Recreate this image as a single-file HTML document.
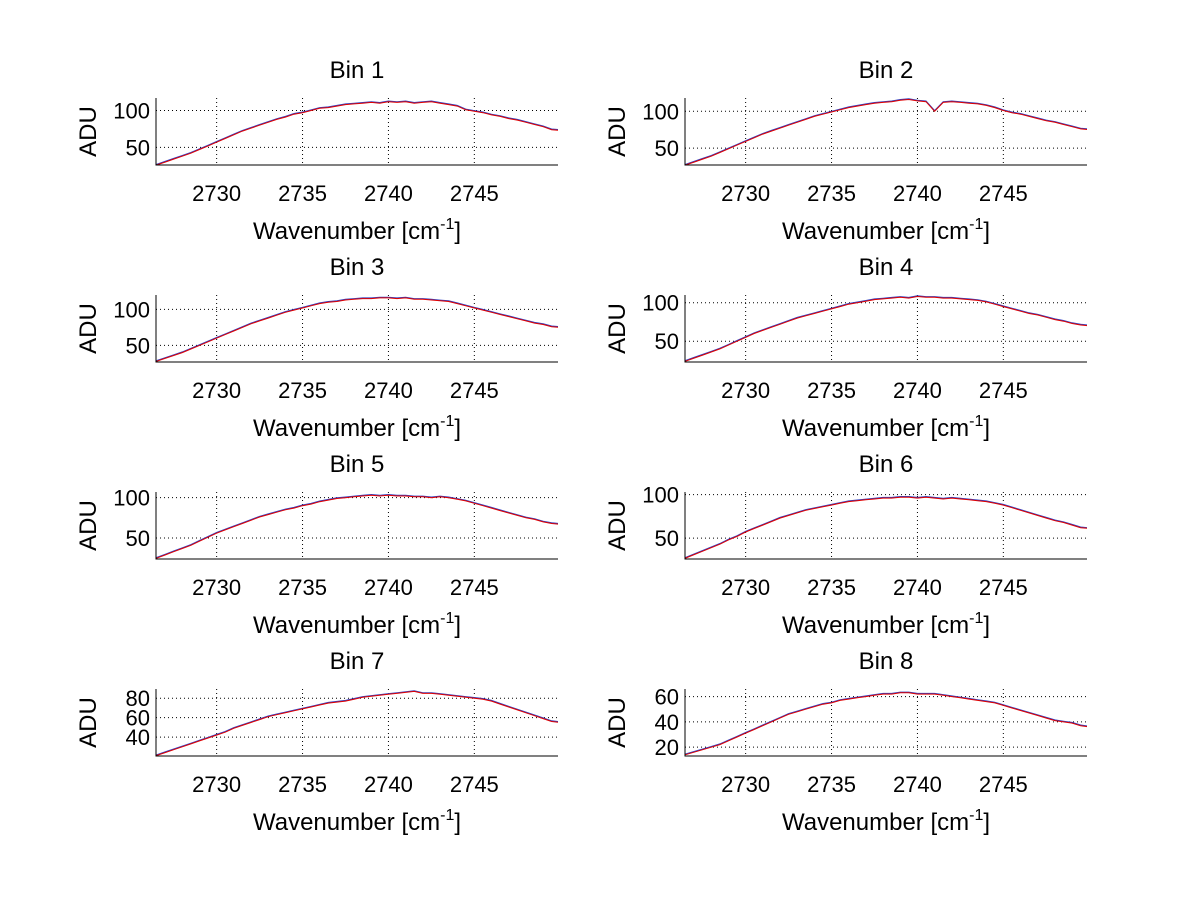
<!DOCTYPE html>
<html><head><meta charset="utf-8"><style>
body{margin:0;background:#fff}
svg{display:block;font-family:"Liberation Sans",sans-serif}
</style></head><body>
<svg id="fig" width="1200" height="901" viewBox="0 0 1200 901"></svg>
<script>
const xTicks=[2730,2735,2740,2745];
const xMin=2726.47, xMax=2749.87;
const xStart=2726.5, xStep=0.5;
const titles=["Bin 1","Bin 2","Bin 3","Bin 4","Bin 5","Bin 6","Bin 7","Bin 8"];
const yLims=[[26,117],[27,118],[27,120],[23,110],[24,107],[26,103],[20.5,89.5],[13,66]];
const yTicks=[[50,100],[50,100],[50,100],[50,100],[50,100],[50,100],[40,60,80],[20,40,60]];
const bin1=[26,30,34,38,42,47,52,57,62,67,72,76,80,84,88,91,95,97,100,103,104,106,108,109,110,111,110,112,111,112,110,111,112,110,108,106,101,99,97,94,92,89,87,84,81,78,74,73];
const bin2=[27,31,35,39,44,49,54,59,64,69,73,77,81,85,89,93,96,99,102,105,107,109,111,112,113,115,116,114,113,100,112,113,112,111,110,108,105,101,98,96,93,90,87,85,82,79,76,75];
const bin3=[28,32,36,40,45,50,55,60,65,70,75,80,84,88,92,96,99,102,105,108,110,111,113,114,115,115,116,116,115,116,114,114,113,112,111,108,105,102,99,96,93,90,87,84,81,79,76,75];
const bin4=[24,28,32,36,40,45,50,55,60,64,68,72,76,80,83,86,89,92,95,98,100,102,104,105,106,107,106,108,107,107,106,106,105,104,103,101,98,95,92,89,86,84,81,78,76,73,71,70];
const bin5=[25,29,33,37,41,46,51,56,60,64,68,72,76,79,82,85,87,90,92,95,97,99,100,101,102,103,102,103,102,102,101,101,100,101,100,98,96,93,90,87,84,81,78,75,73,70,68,67];
const bin6=[27,31,35,39,43,48,52,57,61,65,69,73,76,79,82,84,86,88,90,92,93,94,95,96,96,97,97,96,97,96,95,96,95,94,93,92,90,88,85,82,79,76,73,70,68,65,62,61];
const bin7=[21,24,27,30,33,36,39,42,45,49,52,55,58,61,63,65,67,69,71,73,75,76,77,79,81,82,83,84,85,86,87,85,85,84,83,82,81,80,79,77,74,71,68,65,62,59,56,55];
const bin8=[14,16,18,20,22,25,28,31,34,37,40,43,46,48,50,52,54,55,57,58,59,60,61,62,62,63,63,62,62,62,61,60,59,58,57,56,55,53,51,49,47,45,43,41,40,39,37,36];
const series=[bin1,bin2,bin3,bin4,bin5,bin6,bin7,bin8];

const NS="http://www.w3.org/2000/svg";
const svg=document.getElementById('fig');
function mk(tag,attrs,parent){const e=document.createElementNS(NS,tag);for(const k in attrs)e.setAttribute(k,attrs[k]);(parent||svg).appendChild(e);return e;}
const defs=mk('defs',{});

for(let p=0;p<8;p++){
  const col=p%2,row=Math.floor(p/2);
  const L=col?685:156,R=col?1087:558,T=98+row*197,B=T+67;
  const cp=mk('clipPath',{id:'c'+p},defs);
  mk('rect',{x:L,y:T-5,width:R-L,height:B-T+5},cp);
  const g=mk('g',{});
  
  
  const xs=v=>L+(v-xMin)/(xMax-xMin)*(R-L);
  const [y0,y1]=yLims[p];
  const ys=v=>B-(v-y0)/(y1-y0)*(B-T);
  xTicks.forEach(t=>{
    const gl=mk('line',{x1:xs(t),x2:xs(t),y1:T,y2:B,stroke:'#000','stroke-width':1,'stroke-dasharray':'1,3'},g);
    
    
    const tl=mk('text',{x:xs(t),y:B+36,'font-size':22,'text-anchor':'middle'},g);
    tl.textContent=t;
    
    
  });
  yTicks[p].forEach(t=>{
    const gl=mk('line',{x1:L,x2:R,y1:ys(t),y2:ys(t),stroke:'#000','stroke-width':1,'stroke-dasharray':'1,3'},g);
    
    
    const tl=mk('text',{x:L-6,y:ys(t)+8,'font-size':22,'text-anchor':'end'},g);
    tl.textContent=t;
    
    
  });
  const data=series[p];
  const pts=data.map((v,i)=>xs(xStart+i*xStep).toFixed(1)+','+ys(v).toFixed(1)).join(' ');
  const lg=mk('g',{'clip-path':`url(#c${p})`},g);
  const bl=mk('polyline',{points:pts,fill:'none',stroke:'#3040c0','stroke-width':1.2,transform:'translate(0,-0.6)'},lg);
  
  
  const rl=mk('polyline',{points:pts,fill:'none',stroke:'#e00000','stroke-width':1},lg);
  
  
  const ax=mk('path',{d:`M${L},${T}V${B}H${R}`,fill:'none',stroke:'#000','stroke-width':1},g);
  
  
  const ti=mk('text',{x:(L+R)/2,y:T-20,'font-size':24,'text-anchor':'middle'},g);
  ti.textContent=titles[p];
  
  
  const xl=mk('text',{x:(L+R)/2,y:B+74,'font-size':24,'text-anchor':'middle'},g);
  xl.innerHTML='Wavenumber [cm<tspan font-size="16" dy="-10">-1</tspan><tspan dy="10">]</tspan>';
  
  
  const yl=mk('text',{x:0,y:0,'font-size':24,'text-anchor':'middle',transform:`translate(${L-60},${(T+B)/2}) rotate(-90)`},g);
  yl.textContent='ADU';
  
  
}
</script>
</body></html>
